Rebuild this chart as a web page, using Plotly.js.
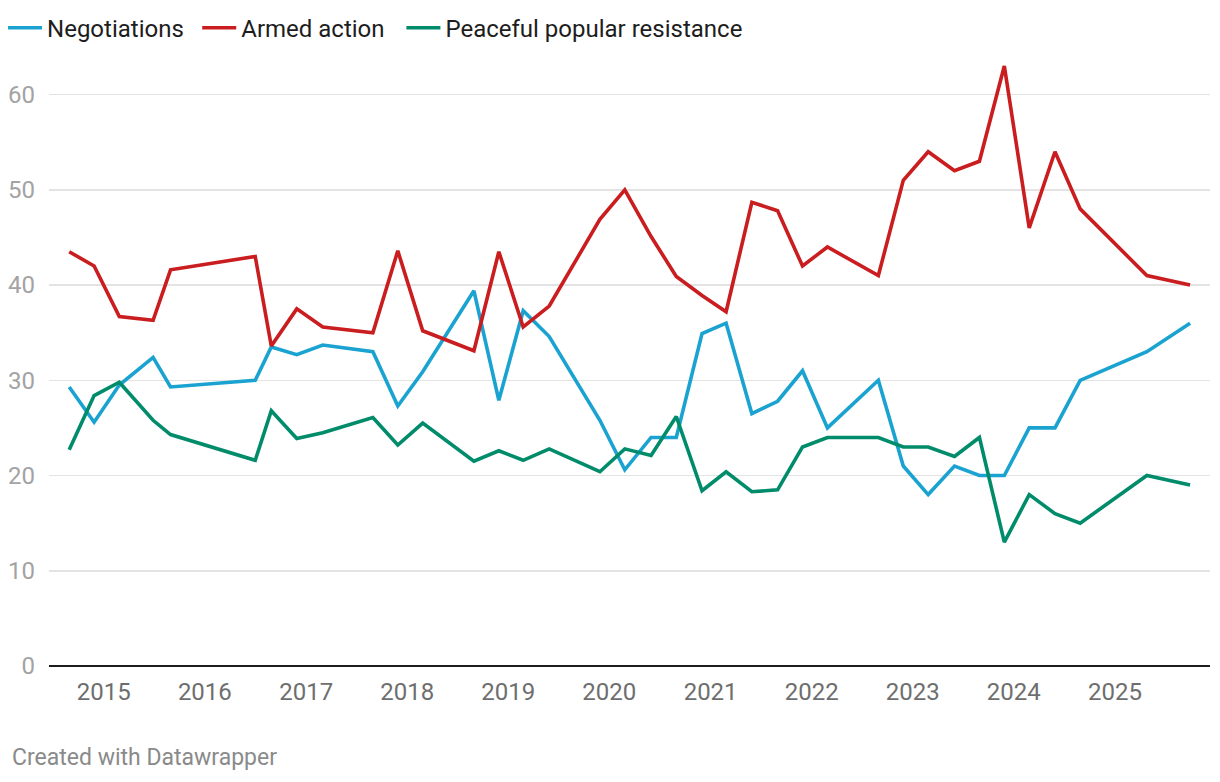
<!DOCTYPE html>
<html>
<head>
<meta charset="utf-8">
<script src="https://cdn.plot.ly/plotly-3.0.1.min.js"></script>
<style>
  html, body { margin: 0; padding: 0; background: #ffffff; }
  #chart { width: 1220px; height: 782px; }
</style>
</head>
<body>
<div id="chart"></div>
<script>
// Poll dates (approximate survey dates)
const dates = [
  "2014-08-29", "2014-11-27", "2015-02-26", "2015-06-28", "2015-08-30",
  "2016-07-01", "2016-08-28", "2016-11-28", "2017-03-02", "2017-08-30",
  "2017-11-28", "2018-02-26", "2018-08-30", "2018-11-28", "2019-02-24",
  "2019-05-29", "2019-11-28", "2020-02-26", "2020-05-31", "2020-08-30",
  "2020-12-01", "2021-02-26", "2021-05-30", "2021-08-31", "2021-11-29",
  "2022-02-27", "2022-08-30", "2022-11-28", "2023-02-26", "2023-06-01",
  "2023-08-30", "2023-11-28", "2024-02-26", "2024-05-29", "2024-08-28",
  "2025-04-26", "2025-09-29"
];

const negotiations = [
  29.3, 25.6, 29.5, 32.4, 29.3,
  30.0, 33.5, 32.7, 33.7, 33.0,
  27.3, 30.9, 39.4, 27.9, 37.3,
  34.6, 25.8, 20.6, 24.0, 24.0,
  34.9, 36.0, 26.5, 27.8, 31.0,
  25.0, 30.0, 21.0, 18.0, 21.0,
  20.0, 20.0, 25.0, 25.0, 30.0,
  33.0, 36.0
];

const armedAction = [
  43.5, 42.0, 36.7, 36.3, 41.6,
  43.0, 33.6, 37.5, 35.6, 35.0,
  43.6, 35.2, 33.1, 43.5, 35.6,
  37.8, 46.9, 50.0, 45.1, 40.9,
  38.9, 37.2, 48.7, 47.8, 42.0,
  44.0, 41.0, 51.0, 54.0, 52.0,
  53.0, 63.0, 46.0, 54.0, 48.0,
  41.0, 40.0
];

const peacefulResistance = [
  22.7, 28.4, 29.8, 25.8, 24.3,
  21.6, 26.8, 23.9, 24.5, 26.1,
  23.2, 25.5, 21.5, 22.6, 21.6,
  22.8, 20.4, 22.8, 22.1, 26.2,
  18.4, 20.4, 18.3, 18.5, 23.0,
  24.0, 24.0, 23.0, 23.0, 22.0,
  24.0, 13.0, 18.0, 16.0, 15.0,
  20.0, 19.0
];

const seriesNames = ["Negotiations", "Armed action", "Peaceful popular resistance"];
const legendPadding = ["\u00a0\u200a", "\u00a0\u00a0", ""];
const seriesColors = ["#1aa3d1", "#c91d1f", "#008c6b"];
const yTickVals = [0, 10, 20, 30, 40, 50, 60];
const xTickVals = ["2015-01-01","2016-01-01","2017-01-01","2018-01-01","2019-01-01","2020-01-01",
                   "2021-01-01","2022-01-01","2023-01-01","2024-01-01","2025-01-01"];
const xTickText = ["2015","2016","2017","2018","2019","2020","2021","2022","2023","2024","2025"];

const seriesValues = [negotiations, armedAction, peacefulResistance];
const traces = seriesValues.map((vals, i) => ({
  type: "scatter",
  mode: "lines",
  x: dates,
  y: vals,
  name: seriesNames[i] + legendPadding[i],
  line: { color: seriesColors[i], width: 3.6 },
  hoverinfo: "x+y+name"
}));

const layout = {
  width: 1220,
  height: 782,
  paper_bgcolor: "#ffffff",
  plot_bgcolor: "#ffffff",
  font: { family: "Roboto, 'Noto Sans', sans-serif", size: 24, color: "#1d1d1d" },
  margin: { l: 49, r: 10, t: 47, b: 116, pad: 0, autoexpand: false },
  showlegend: true,
  legend: {
    orientation: "h",
    xref: "container",
    yref: "container",
    x: 0.0025,
    xanchor: "left",
    y: 0.964,
    yanchor: "middle",
    font: { size: 24, color: "#1d1d1d" },
    itemwidth: 34,
    tracegroupgap: 0,
    bgcolor: "rgba(0,0,0,0)"
  },
  xaxis: {
    type: "date",
    range: ["2014-06-17", "2025-12-10"],
    tickvals: xTickVals,
    ticktext: xTickText,
    showgrid: false,
    zeroline: false,
    showline: false,
    ticks: "",
    ticklabelstandoff: 9,
    tickfont: { size: 24, color: "#6e6e6e" },
    automargin: false,
    fixedrange: true
  },
  yaxis: {
    range: [0, 65],
    tickvals: yTickVals,
    showgrid: true,
    gridcolor: "#e3e3e3",
    gridwidth: 1.5,
    zeroline: true,
    zerolinecolor: "#1d1d1d",
    zerolinewidth: 2.5,
    showline: false,
    ticks: "",
    ticklabelstandoff: 13,
    tickfont: { size: 24, color: "#a3a3a3" },
    automargin: false,
    fixedrange: true
  },
  annotations: [{
    text: "Created with Datawrapper",
    xref: "paper", yref: "paper",
    x: -0.034, y: -0.148,
    xanchor: "left", yanchor: "middle",
    showarrow: false,
    font: { size: 23, color: "#8a8a8a" }
  }]
};

Plotly.newPlot("chart", traces, layout, { displayModeBar: false, staticPlot: true });
</script>
</body>
</html>
